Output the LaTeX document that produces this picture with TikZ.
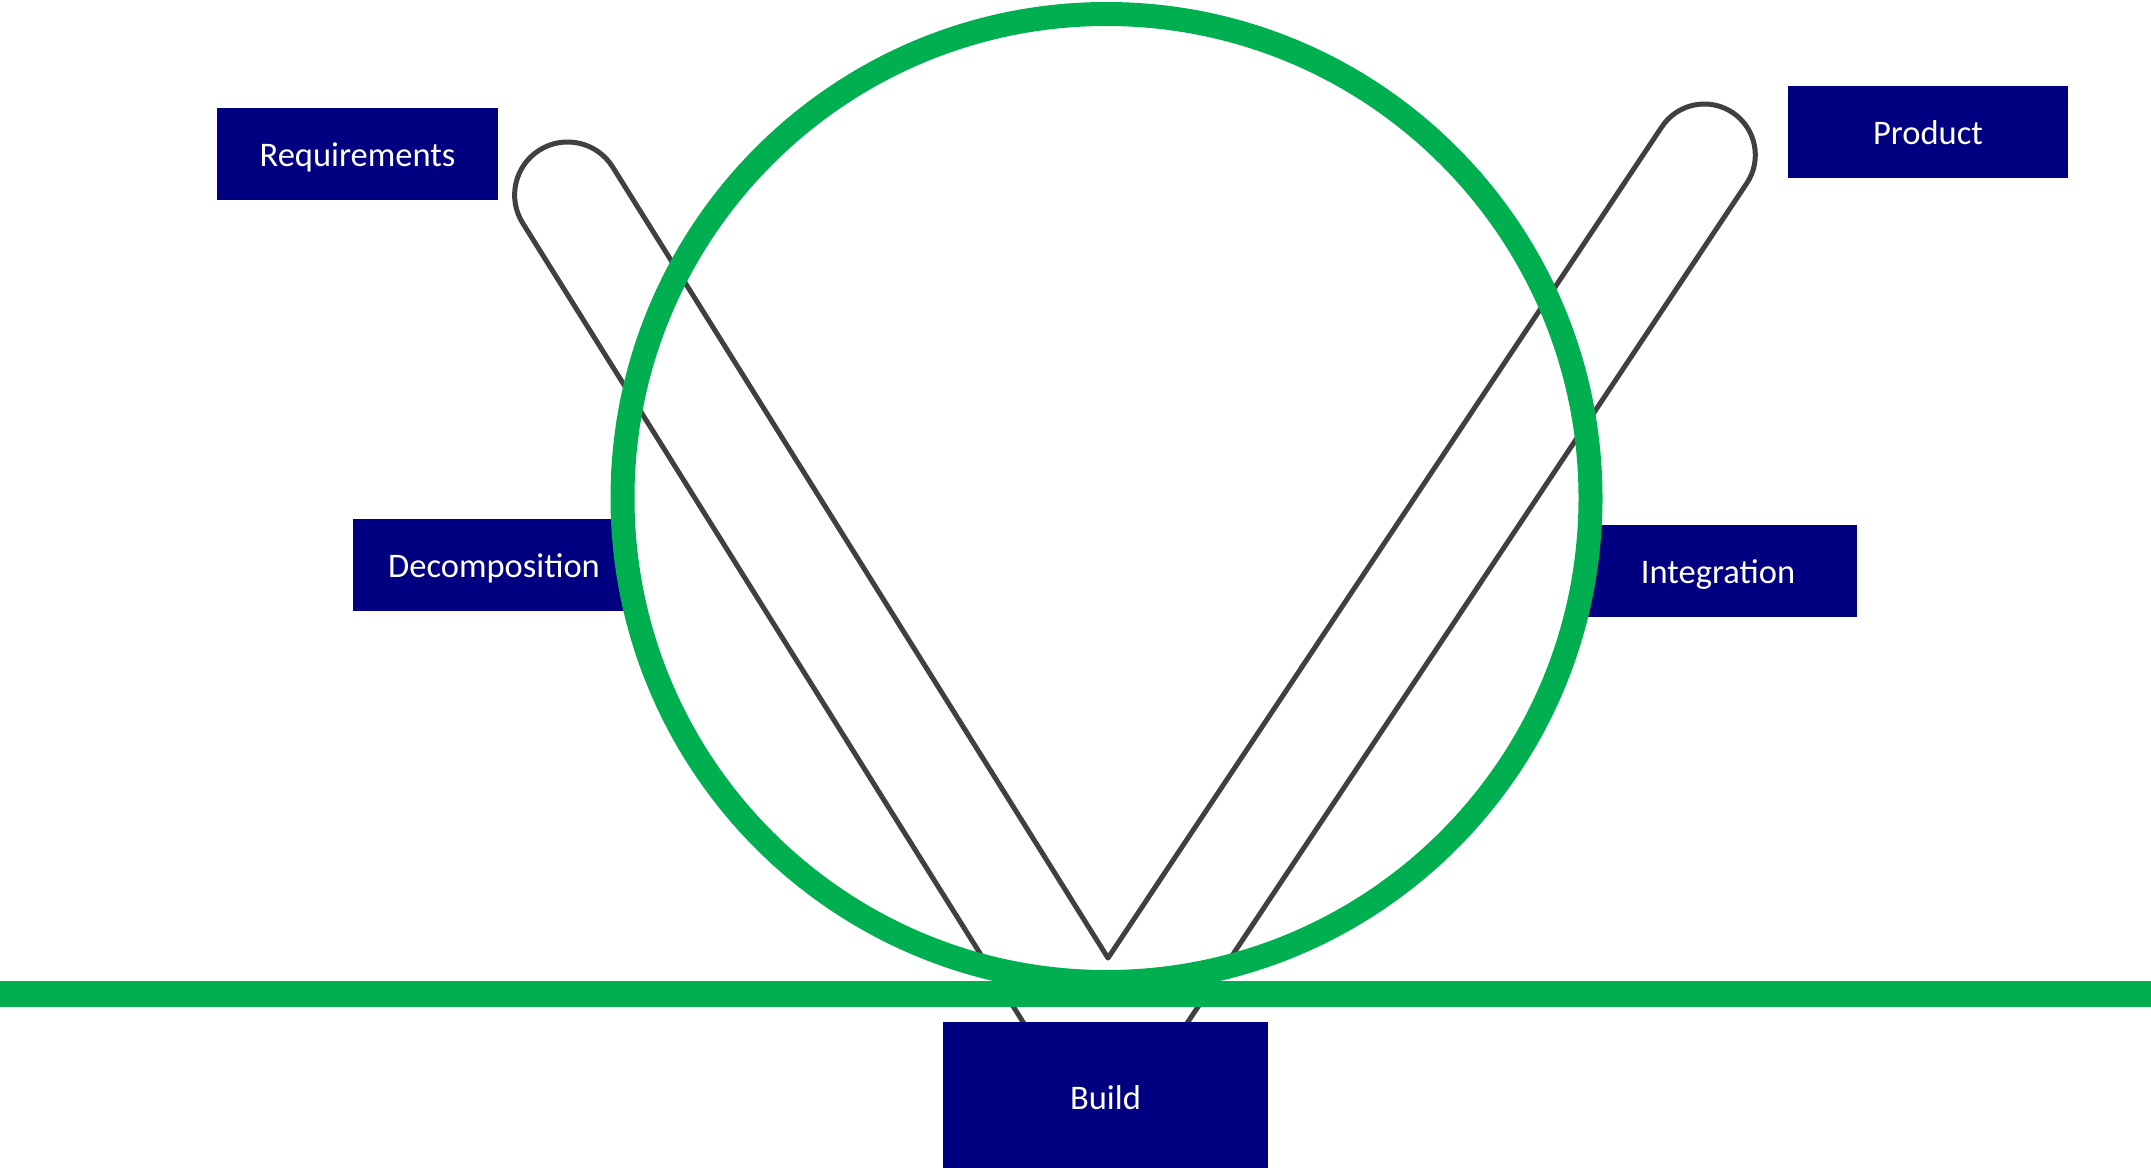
\documentclass[tikz,border=0pt]{standalone}
\usepackage{fontspec}
\setmainfont{Carlito}
\definecolor{navybox}{HTML}{000080}
\definecolor{vgreen}{HTML}{00B050}
\definecolor{vgray}{HTML}{404040}
\tikzset{
  phase/.style={fill=navybox, text=white, inner sep=0pt, minimum height=92,
    font=\fontsize{34.5}{40}\selectfont, text height=24pt, text depth=0pt},
  vline/.style={draw=vgray, line width=5pt, line join=round, line cap=round},
  greenring/.style={draw=vgreen, line width=24pt},
  greenbar/.style={draw=vgreen, line width=26pt}
}
\begin{document}
\begin{tikzpicture}[x=1pt,y=-1pt]
\useasboundingbox (0,0) rectangle (2151,1167);
\fill[white] (0,0) rectangle (2151,1167);
% V shape
\coordinate (V) at (1108,958);
\coordinate (L1) at (612.5,166.9);
\coordinate (L2) at (1028,1030);
\coordinate (R1) at (1661.9,126.7);
\coordinate (R2) at (1182.5,1030);
\draw[vline] (L2) -- (522.7,223.1) arc[start angle=-212.05, end angle=-32.05, radius=53] -- (V)
  -- (R1) arc[start angle=-146.28, end angle=33.72, radius=51] -- (R2);
% boxes
\node[phase, minimum width=281] (req) at (357.5,154) {Requirements};
\node[phase, minimum width=280] (prod) at (1928,132) {Product};
\node[phase, minimum width=282] (dec) at (494,565) {Decomposition};
\node[phase, minimum width=278] (int) at (1718,571) {Integration};
\node[phase, minimum width=325, minimum height=150] (build) at (1105.5,1097) {Build};
% green circle and line
\draw[greenring] (1106.5,498) circle[radius=484];
\coordinate (gl) at (0,994);
\coordinate (gr) at (2151,994);
\draw[greenbar] (gl) -- (gr);
\end{tikzpicture}
\end{document}
